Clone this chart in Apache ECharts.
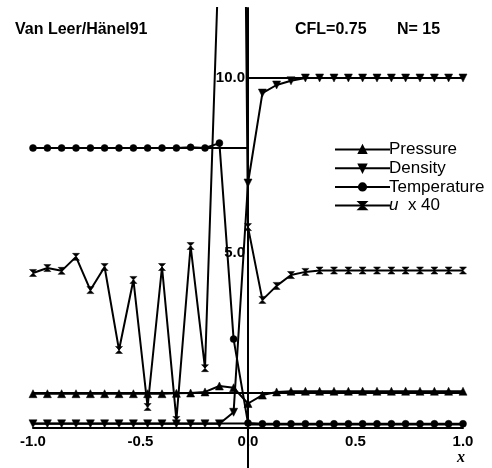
<!DOCTYPE html>
<html>
<head>
<meta charset="utf-8">
<script src="https://cdn.jsdelivr.net/npm/echarts@6/dist/echarts.min.js"></script>
<style>
html,body{margin:0;padding:0;background:#fff;}
#chart{width:492px;height:468px;}
</style>
</head>
<body>
<div id="chart"></div>
<script>
// grid positions of the 31 cell points (N = 15 per half)
const xs = [-1.000,-0.933,-0.867,-0.800,-0.733,-0.667,-0.600,-0.533,-0.467,-0.400,-0.333,-0.267,-0.200,-0.133,-0.067,0.000,
             0.067,0.133,0.200,0.267,0.333,0.400,0.467,0.533,0.600,0.667,0.733,0.800,0.867,0.933,1.000];
const pressure    = [0.98,0.98,0.98,0.98,0.98,0.98,0.98,0.98,0.98,0.98,0.99,1.00,1.03,1.20,1.15,0.70,
                     0.94,1.03,1.05,1.05,1.05,1.05,1.05,1.05,1.05,1.05,1.05,1.05,1.05,1.05,1.05];
const density     = [0.12,0.12,0.12,0.12,0.12,0.12,0.12,0.12,0.12,0.12,0.12,0.12,0.12,0.12,0.45,7.00,
                     9.57,9.80,9.92,10.0,10.0,10.0,10.0,10.0,10.0,10.0,10.0,10.0,10.0,10.0,10.0];
const temperature = [8.00,8.00,8.00,8.00,8.00,8.00,8.00,8.00,8.00,8.00,8.00,8.02,8.00,8.14,2.54,0.14,
                     0.12,0.12,0.12,0.12,0.12,0.12,0.12,0.12,0.12,0.12,0.12,0.12,0.12,0.12,0.12];
const u40         = [4.43,4.57,4.49,4.89,3.94,4.60,2.23,4.23,0.60,4.60,0.23,5.20,1.71,14.0,50.0,5.74,
                     3.66,4.06,4.37,4.46,4.50,4.50,4.50,4.50,4.50,4.50,4.50,4.50,4.50,4.50,4.50];
// exact solution (initial contact discontinuity)
const exactT   = [[-1,8],[0,8],[0,0.1],[1,0.1]];
const exactRho = [[-1,0.125],[0,0.125],[0,10],[1,10]];
const exactP   = [[-1,1],[1,1]];
const yLabels = [5, 10];
const xLabelStep = 0.5;

const pair = arr => xs.map((x,i)=>[x,arr[i]]);
const LW = 2;
const base = (name, data, symbol, size, rot) => ({
  name, type:'line', data: pair(data), symbol, symbolSize:size, symbolRotate: rot||0,
  showAllSymbol:true, clip:true,
  lineStyle:{color:'#000', width:LW}, itemStyle:{color:'#000', borderColor:'#000', borderWidth:0.5},
  emphasis:{disabled:true}, z:3
});
const exact = (data) => ({
  type:'line', data, symbol:'none', lineStyle:{color:'#000', width:LW}, emphasis:{disabled:true}, z:2, silent:true
});

const chart = echarts.init(document.getElementById('chart'), null, {renderer:'canvas'});
chart.setOption({
  animation:false,
  backgroundColor:'#fff',
  grid:{left:33, right:29, top:8, bottom:0, containLabel:false, outerBoundsMode:'none'},
  xAxis:{type:'value', min:-1, max:1, interval:xLabelStep, position:'bottom', offset:-40,
    axisLine:{onZero:false, lineStyle:{color:'#000', width:2}},
    axisTick:{show:false}, splitLine:{show:false},
    axisLabel:{color:'#000', fontSize:15, fontWeight:'bold', fontFamily:'Liberation Sans, Arial', margin:6,
      formatter:v=>v.toFixed(1)}},
  yAxis:{type:'value', min:-1.143, max:12.0, position:'left', offset:-215,
    axisLine:{onZero:false, lineStyle:{color:'#000', width:2}},
    axisTick:{show:false}, splitLine:{show:false},
    axisLabel:{color:'#000', fontSize:15, fontWeight:'bold', fontFamily:'Liberation Sans, Arial', margin:3,
      customValues:yLabels, formatter:v=>v.toFixed(1)}},
  legend:{orient:'vertical', left:329, top:136, itemWidth:55, itemHeight:9, itemGap:1.7,
    data:['Pressure','Density','Temperature','u40'],
    formatter:n=> n==='u40' ? '{i|u}  x 40' : n,
    textStyle:{color:'#000', fontSize:17, fontFamily:'Liberation Sans, Arial', padding:[0,0,0,-6], lineHeight:17,
      rich:{i:{fontStyle:'italic', fontSize:17, fontFamily:'Liberation Sans, Arial'}}},
    selectedMode:false},
  graphic:[
    {type:'text', left:15, top:22, style:{text:'Van Leer/Hänel91', font:'bold 16px "Liberation Sans", Arial', fill:'#000'}},
    {type:'text', left:295, top:22, style:{text:'CFL=0.75', font:'bold 16px "Liberation Sans", Arial', fill:'#000'}},
    {type:'text', left:397, top:22, style:{text:'N= 15', font:'bold 16px "Liberation Sans", Arial', fill:'#000'}},
    {type:'text', left:457, top:450, style:{text:'x', font:'italic bold 16px "Liberation Serif", serif', fill:'#000'}}
  ],
  series:[
    exact(exactT), exact(exactRho), exact(exactP),
    base('Pressure', pressure, 'triangle', 8),
    base('Density', density, 'triangle', 8, 180),
    base('Temperature', temperature, 'circle', 7),
    base('u40', u40, 'path://M0,0L10,0L5,5L10,10L0,10L5,5Z', 7)
  ]
});
</script>
</body>
</html>
